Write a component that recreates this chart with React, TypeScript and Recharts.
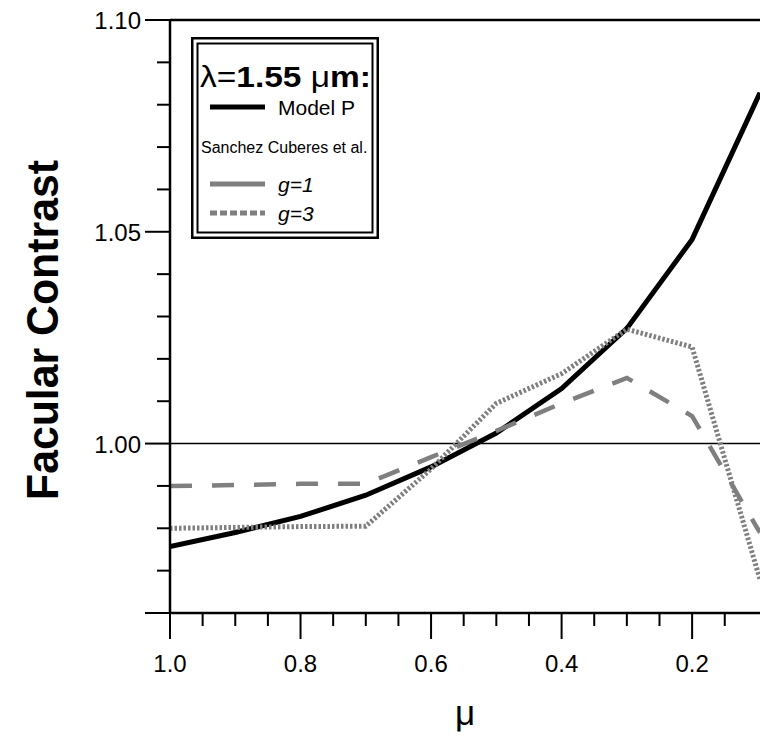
import React from "react"
import { LineChart, Line, XAxis, YAxis, ReferenceLine, Legend } from "recharts"

// mu = cos(theta), plotted from disc centre (1.0) to limb
const mu = [1.0, 0.9, 0.8, 0.7, 0.6, 0.5, 0.4, 0.3, 0.2, 0.1, 0.096]
const modelP = [0.9757, 0.979, 0.9828, 0.9878, 0.9945, 1.0025, 1.013, 1.0272, 1.0482, 1.0815, 1.0828]
const sanchezG1 = [0.99, 0.9902, 0.9905, 0.9905, 0.9968, 1.003, 1.0095, 1.0155, 1.0065, 0.98, 0.979]
const sanchezG3 = [0.98, 0.9802, 0.9804, 0.9805, 0.994, 1.0095, 1.0165, 1.027, 1.0228, 0.97, 0.968]

const xTicks = [1.0, 0.95, 0.9, 0.85, 0.8, 0.75, 0.7, 0.65, 0.6, 0.55, 0.5, 0.45, 0.4, 0.35, 0.3, 0.25, 0.2, 0.15]
const xLabeled = [1.0, 0.8, 0.6, 0.4, 0.2]
const yTicks = [0.96, 0.97, 0.98, 0.99, 1.0, 1.01, 1.02, 1.03, 1.04, 1.05, 1.06, 1.07, 1.08, 1.09, 1.1]
const yLabeled = [1.0, 1.05, 1.1]
const yLong = [0.96, 1.0, 1.05, 1.1]

const FONT = "'Liberation Sans', Arial, Helvetica, sans-serif"
const GREY = "#7f7f7f"

const data = mu.map((m, i) => ({
  mu: m,
  modelP: modelP[i],
  g1: sanchezG1[i],
  g3: sanchezG3[i],
}))

const near = (list: number[], v: number) => list.some((t) => Math.abs(t - v) < 1e-6)

const XTick = (props: any) => {
  const { x, y, payload } = props
  const major = near(xLabeled, payload.value)
  const len = major ? 26 : 13
  return (
    <g>
      <line x1={x} y1={y} x2={x} y2={y + len} stroke="#000" strokeWidth={2} />
      {major && (
        <text x={x} y={y + 59} textAnchor="middle" fontSize={24} fontFamily={FONT} fill="#000">
          {payload.value.toFixed(1)}
        </text>
      )}
    </g>
  )
}

const YTick = (props: any) => {
  const { x, y, payload } = props
  const len = near(yLong, payload.value) ? 25 : 13
  return (
    <g>
      <line x1={x - len} y1={y} x2={x} y2={y} stroke="#000" strokeWidth={2} />
      {near(yLabeled, payload.value) && (
        <text x={x - 29} y={y + 9} textAnchor="end" fontSize={24} fontFamily={FONT} fill="#000">
          {payload.value.toFixed(2)}
        </text>
      )}
    </g>
  )
}

const YTitle = (props: any) => {
  const { viewBox } = props
  const cx = viewBox.x + 42
  const cy = 330
  return (
    <text
      x={cx}
      y={cy}
      transform={`rotate(-90 ${cx} ${cy})`}
      textAnchor="middle"
      dominantBaseline="central"
      fontSize={44}
      fontWeight="bold"
      fontFamily={FONT}
      textLength={340}
      lengthAdjust="spacingAndGlyphs"
      fill="#000"
    >
      Facular Contrast
    </text>
  )
}

const XTitle = (props: any) => {
  const { viewBox } = props
  return (
    <text x={viewBox.x + viewBox.width / 2} y={725} textAnchor="middle" fontSize={35} fontFamily={FONT} fill="#000">
      μ
    </text>
  )
}

const LegendBox = () => (
  <svg width={188} height={202} style={{ display: "block" }}>
    <rect x={1.25} y={1.25} width={185.5} height={199.5} fill="#fff" stroke="#000" strokeWidth={2.5} />
    <rect x={6.5} y={6.5} width={175} height={189} fill="none" stroke="#000" strokeWidth={2} />
    <text x={9} y={50} fontSize={30} fontFamily={FONT} fill="#000" textLength={171} lengthAdjust="spacingAndGlyphs">
      λ=<tspan fontWeight="bold">1.55 </tspan>μ<tspan fontWeight="bold">m:</tspan>
    </text>
    <line x1={19} y1={70} x2={74} y2={70} stroke="#000" strokeWidth={5} />
    <text x={87} y={78} fontSize={21} fontFamily={FONT} fill="#000">Model P</text>
    <text x={10} y={116} fontSize={16} fontFamily={FONT} fill="#000">
      Sanchez Cuberes et al.
    </text>
    <line x1={19} y1={147} x2={74} y2={147} stroke={GREY} strokeWidth={5} />
    <text x={87} y={155} fontSize={21} fontStyle="italic" fontFamily={FONT} fill="#000">g=1</text>
    <line x1={19} y1={176} x2={74} y2={176} stroke={GREY} strokeWidth={5} strokeDasharray="7 3" />
    <text x={87} y={184} fontSize={21} fontStyle="italic" fontFamily={FONT} fill="#000">g=3</text>
  </svg>
)

export default function App() {
  return (
    <div style={{ position: "absolute", left: 0, top: 0, width: 760, height: 741, background: "#fff", overflow: "hidden" }}>
      <LineChart width={760} height={741} data={data} margin={{ top: 20, right: 0, bottom: 0, left: 0 }}>
        <XAxis
          dataKey="mu"
          type="number"
          domain={[0.096, 1.0]}
          reversed
          allowDataOverflow
          ticks={xTicks}
          interval={0}
          tick={XTick}
          tickLine={false}
          tickSize={0}
          tickMargin={0}
          height={128}
          axisLine={{ stroke: "#000", strokeWidth: 2.5 }}
          label={{ content: XTitle }}
        />
        <YAxis
          type="number"
          domain={[0.96, 1.1]}
          allowDataOverflow
          ticks={yTicks}
          interval={0}
          tick={YTick}
          tickLine={false}
          tickSize={0}
          tickMargin={0}
          width={170}
          axisLine={{ stroke: "#000", strokeWidth: 2.5 }}
          label={{ content: YTitle }}
        />
        <ReferenceLine y={1.0} stroke="#000" strokeWidth={1.5} />
        <ReferenceLine y={1.1} stroke="#000" strokeWidth={2.5} />
        <Line dataKey="modelP" type="linear" stroke="#000" strokeWidth={5} dot={false} isAnimationActive={false} />
        <Line dataKey="g1" type="linear" stroke={GREY} strokeWidth={4.5} strokeDasharray="22 20" dot={false} isAnimationActive={false} />
        <Line dataKey="g3" type="linear" stroke={GREY} strokeWidth={5} strokeDasharray="2.5 2" dot={false} isAnimationActive={false} />
        <Legend
          layout="horizontal"
          verticalAlign="middle"
          align="center"
          wrapperStyle={{ position: "absolute", left: 191, top: 37, width: 188 }}
          content={LegendBox}
        />
      </LineChart>
    </div>
  )
}
